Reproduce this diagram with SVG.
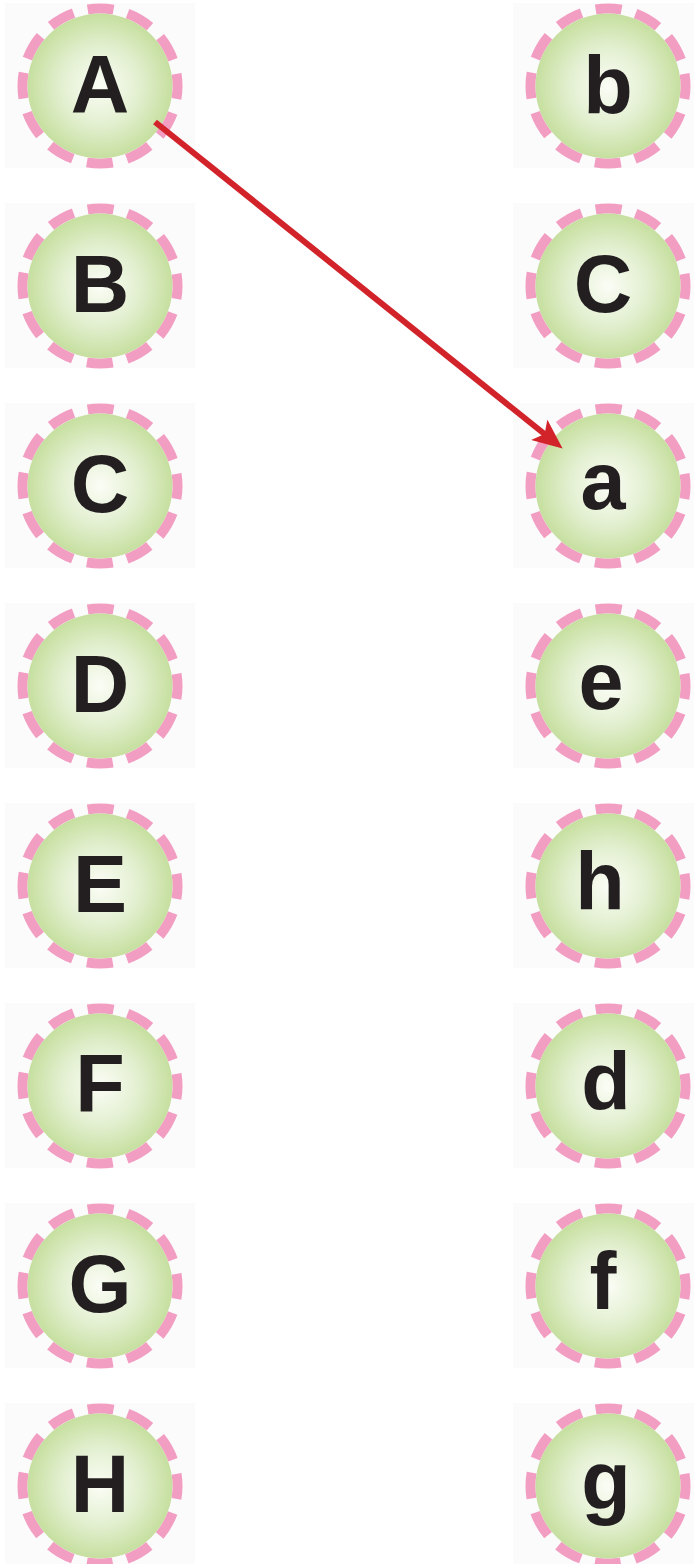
<svg xmlns="http://www.w3.org/2000/svg" width="694" height="1564" viewBox="0 0 694 1564">
<defs>
<radialGradient id="g" cx="50%" cy="50%" r="50%">
<stop offset="0" stop-color="#fbfdf6"/>
<stop offset="0.55" stop-color="#e2efcf"/>
<stop offset="1" stop-color="#c6df9f"/>
</radialGradient>
<marker id="ah" viewBox="0 0 30 26" refX="10" refY="13" markerWidth="30" markerHeight="26" markerUnits="userSpaceOnUse" orient="auto">
<path d="M0,0 L30,13 L0,26 L7,13 Z" fill="#d2232a"/>
</marker>
<g id="node">
<rect x="-95" y="-83" width="190" height="165" fill="#fbfbfb"/>
<circle r="77.5" fill="none" stroke="#f29ec3" stroke-width="10" stroke-dasharray="26 14.58" stroke-dashoffset="13"/>
<circle r="72.5" fill="url(#g)"/>
</g>
</defs>
<style>
text{font-family:"Liberation Sans",Arial,sans-serif;font-weight:bold;font-size:81px;fill:#231f20;text-anchor:middle}
</style>
<rect width="694" height="1564" fill="#ffffff"/>
<g id="nodeA"><use href="#node" x="100" y="86"/><text x="100" y="112">A</text></g>
<g id="nodeB"><use href="#node" x="100" y="286"/><text x="100" y="312">B</text></g>
<g id="nodeC"><use href="#node" x="100" y="486"/><text x="100" y="512">C</text></g>
<g id="nodeD"><use href="#node" x="100" y="686"/><text x="100" y="712">D</text></g>
<g id="nodeE"><use href="#node" x="100" y="886"/><text x="100" y="912">E</text></g>
<g id="nodeF"><use href="#node" x="100" y="1086"/><text x="100" y="1112">F</text></g>
<g id="nodeG"><use href="#node" x="100" y="1286"/><text x="100" y="1312">G</text></g>
<g id="nodeH"><use href="#node" x="100" y="1486"/><text x="100" y="1512">H</text></g>
<g id="node_b"><use href="#node" x="608" y="86"/><text x="608" y="113">b</text></g>
<g id="node_c"><use href="#node" x="608" y="286"/><text x="603" y="312">C</text></g>
<g id="node_a"><use href="#node" x="608" y="486"/><text x="603" y="509">a</text></g>
<g id="node_e"><use href="#node" x="608" y="686"/><text x="601" y="709">e</text></g>
<g id="node_h"><use href="#node" x="608" y="886"/><text x="600" y="909">h</text></g>
<g id="node_d"><use href="#node" x="608" y="1086"/><text x="606" y="1109">d</text></g>
<g id="node_f"><use href="#node" x="608" y="1286"/><text x="603" y="1309">f</text></g>
<g id="node_g"><use href="#node" x="608" y="1486"/><text x="606" y="1509">g</text></g>
<g id="connectors">
<line x1="155" y1="122" x2="547" y2="436" stroke="#d2232a" stroke-width="6" marker-end="url(#ah)"/>
</g>
</svg>
